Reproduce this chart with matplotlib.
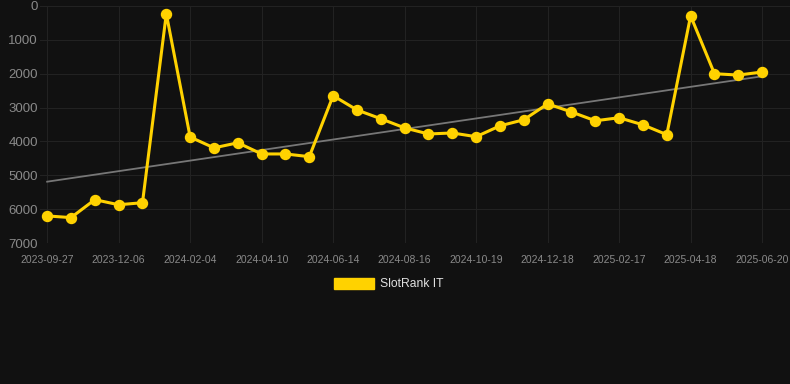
import matplotlib
matplotlib.use("Agg")
import matplotlib.pyplot as plt
import matplotlib.patches as mpatches
import numpy as np

plt.rcParams['font.family'] = ['Liberation Sans', 'DejaVu Sans']

# SlotRank IT rank per sample (lower = better, axis inverted)
ranks = [6200, 6250, 5720, 5870, 5810, 230, 3870, 4190, 4040, 4370,
         4370, 4450, 2650, 3070, 3330, 3600, 3780, 3750, 3860, 3540,
         3360, 2890, 3130, 3390, 3300, 3510, 3800, 290, 2000, 2040, 1950]
tick_labels = ["2023-09-27", "2023-12-06", "2024-02-04", "2024-04-10",
               "2024-06-14", "2024-08-16", "2024-10-19", "2024-12-18",
               "2025-02-17", "2025-04-18", "2025-06-20"]
y_ticks = [0, 1000, 2000, 3000, 4000, 5000, 6000, 7000]

bg = "#111111"
gold = "#FFD200"

fig = plt.figure(figsize=(7.9, 3.84), dpi=100, facecolor=bg)
ax = fig.add_axes([40 / 790, 1 - 243 / 384, 750 / 790, 237 / 384])
ax.set_facecolor(bg)

x = np.arange(len(ranks))

# linear trend
k, b = np.polyfit(x, ranks, 1)
ax.plot(x, k * x + b, color="#777777", lw=1.3, zorder=2)

ax.plot(x, ranks, color=gold, lw=2.2, marker="o", markersize=7.2,
        zorder=3, clip_on=False)

ax.set_xlim(-0.3, 31.17)
ax.set_ylim(7000, 0)
ax.set_yticks(y_ticks)
ax.set_xticks(x[::3])
ax.set_xticklabels(tick_labels)

ax.grid(True, color="#222222", lw=0.8)
ax.set_axisbelow(True)
for s in ax.spines.values():
    s.set_visible(False)
ax.tick_params(axis="both", length=0, colors="#8a8a8a")
ax.tick_params(axis="y", labelsize=9.5, pad=1.5)
ax.tick_params(axis="x", labelsize=7.5, pad=8.5)

handle = mpatches.Patch(color=gold, label="SlotRank IT")
leg = fig.legend(handles=[handle], loc="center", bbox_to_anchor=(0.492, 1 - 284 / 384),
                 frameon=False, fontsize=8.7, handlelength=3.3, handleheight=1.0,
                 handletextpad=0.5)
for t in leg.get_texts():
    t.set_color("#e0e0e0")

fig.savefig("out.png", dpi=100, facecolor=bg)
